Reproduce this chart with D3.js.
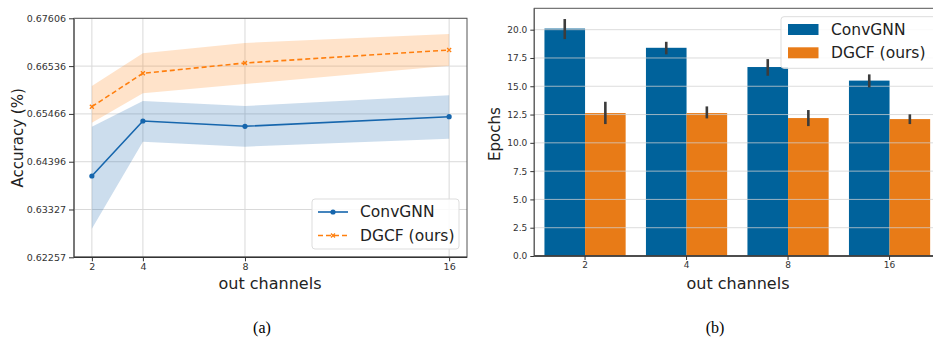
<!DOCTYPE html>
<html>
<head>
<meta charset="utf-8">
<script src="https://cdn.jsdelivr.net/npm/d3@7"></script>
<style>
  html, body { margin: 0; padding: 0; background: #fff; }
  svg { display: block; font-family: "DejaVu Sans", sans-serif; }
  text.caption { font-family: "Liberation Serif", "DejaVu Serif", serif; }
</style>
</head>
<body>
<svg id="fig" width="933" height="344"></svg>
<script>
// ---- data ----
const channels = [2, 4, 8, 16];
const seriesNames = ["ConvGNN", "DGCF (ours)"];

// (a) accuracy: mean and confidence band per channel count
const accConv = [0.64076, 0.65307, 0.65189, 0.65404];
const accConvLo = [0.62897, 0.64844, 0.64732, 0.64911];
const accConvHi = [0.65180, 0.65755, 0.65643, 0.65883];
const accDgcf = [0.65628, 0.66375, 0.66606, 0.66897];
const accDgcfLo = [0.65270, 0.65927, 0.66136, 0.66545];
const accDgcfHi = [0.66091, 0.66823, 0.67053, 0.67255];
const accTicks = [0.62257, 0.63327, 0.64396, 0.65466, 0.66536, 0.67606];

// (b) epochs: mean and error bar per channel count
const epConv = [20.1, 18.4, 16.7, 15.5];
const epConvLo = [19.17, 17.82, 15.93, 14.9];
const epConvHi = [20.94, 18.93, 17.40, 16.05];
const epDgcf = [12.63, 12.63, 12.19, 12.10];
const epDgcfLo = [11.66, 12.16, 11.48, 11.66];
const epDgcfHi = [13.63, 13.22, 12.90, 12.52];
const epTicks = [0, 2.5, 5, 7.5, 10, 12.5, 15, 17.5, 20];

const svg = d3.select("#fig");
const spine = "#333";
const gridCol = "#d9d9d9";
const tickFont = 9.5;

// ================= (a) line chart =================
{
  const L = 74, R = 467, T = 18.3, B = 257.3;
  const x = d3.scaleLinear().domain([1.3, 16.7]).range([L, R]);
  const y = d3.scaleLinear().domain([0.62257, 0.67606]).range([B, T]);
  const g = svg.append("g");

  // grid
  g.append("g").selectAll("line.gy").data(accTicks).join("line")
    .attr("x1", L).attr("x2", R).attr("y1", d => y(d)).attr("y2", d => y(d))
    .attr("stroke", gridCol).attr("stroke-width", 1);
  g.append("g").selectAll("line.gx").data(channels).join("line")
    .attr("y1", T).attr("y2", B).attr("x1", d => x(d)).attr("x2", d => x(d))
    .attr("stroke", gridCol).attr("stroke-width", 1);

  const blue = "#1666ad", orange = "#ff7f0e";
  const series = [
    { m: accConv, lo: accConvLo, hi: accConvHi, c: blue, dash: null, marker: "circle" },
    { m: accDgcf, lo: accDgcfLo, hi: accDgcfHi, c: orange, dash: "5,3", marker: "x" }
  ];
  const area = d3.area().x((d, i) => x(channels[i])).y0(d => y(d[0])).y1(d => y(d[1]));
  const line = d3.line().x((d, i) => x(channels[i])).y(d => y(d));

  series.forEach(s => {
    g.append("path").datum(s.lo.map((v, i) => [v, s.hi[i]]))
      .attr("d", area).attr("fill", s.c).attr("fill-opacity", 0.22);
  });
  series.forEach(s => {
    g.append("path").datum(s.m).attr("d", line).attr("fill", "none")
      .attr("stroke", s.c).attr("stroke-width", 1.6)
      .attr("stroke-dasharray", s.dash);
    if (s.marker === "circle") {
      g.append("g").selectAll("circle").data(s.m).join("circle")
        .attr("cx", (d, i) => x(channels[i])).attr("cy", d => y(d)).attr("r", 2.6)
        .attr("fill", s.c);
    } else {
      g.append("g").selectAll("path.mk").data(s.m).join("path")
        .attr("transform", (d, i) => `translate(${x(channels[i])},${y(d)})`)
        .attr("d", "M-2,-2L2,2M-2,2L2,-2").attr("stroke", s.c).attr("stroke-width", 1.3);
    }
  });

  // frame
  g.append("rect").attr("x", L).attr("y", T).attr("width", R - L).attr("height", B - T)
    .attr("fill", "none").attr("stroke", "#555").attr("stroke-width", 1);
  g.append("line").attr("x1", L).attr("x2", L).attr("y1", T).attr("y2", B)
    .attr("stroke", "#777").attr("stroke-width", 2);
  g.append("line").attr("x1", L).attr("x2", R).attr("y1", B).attr("y2", B)
    .attr("stroke", spine).attr("stroke-width", 1.4);

  // axes
  const ya = d3.axisLeft(y).tickValues(accTicks).tickFormat(d3.format(".5f")).tickSize(5).tickPadding(3);
  const yg = g.append("g").attr("transform", `translate(${L},0)`).call(ya);
  const xa = d3.axisBottom(x).tickValues(channels).tickSize(4).tickPadding(2);
  const xg = g.append("g").attr("transform", `translate(0,${B})`).call(xa);
  [yg, xg].forEach(a => {
    a.select(".domain").remove();
    a.selectAll("line").attr("stroke", spine);
    a.selectAll("text").attr("font-size", tickFont).attr("fill", "#333")
      .attr("font-family", "DejaVu Sans, sans-serif");
  });

  g.append("text").attr("transform", `translate(23,${(T + B) / 2}) rotate(-90)`)
    .attr("text-anchor", "middle").attr("font-size", 15).attr("fill", "#222")
    .text("Accuracy (%)");
  g.append("text").attr("x", 270).attr("y", 289).attr("text-anchor", "middle")
    .attr("font-size", 16).attr("fill", "#222").text("out channels");

  // legend
  const lg = g.append("g");
  lg.append("rect").attr("x", 312).attr("y", 199).attr("width", 147).attr("height", 50)
    .attr("rx", 3).attr("fill", "#fff").attr("fill-opacity", 0.85)
    .attr("stroke", "#ddd").attr("stroke-width", 1);
  series.forEach((s, i) => {
    const yy = 212 + i * 23.5;
    lg.append("line").attr("x1", 318).attr("x2", 348).attr("y1", yy).attr("y2", yy)
      .attr("stroke", s.c).attr("stroke-width", 1.6).attr("stroke-dasharray", s.dash);
    if (s.marker === "circle") {
      lg.append("circle").attr("cx", 333).attr("cy", yy).attr("r", 2.6).attr("fill", s.c);
    } else {
      lg.append("path").attr("transform", `translate(333,${yy})`)
        .attr("d", "M-2,-2L2,2M-2,2L2,-2").attr("stroke", s.c).attr("stroke-width", 1.3);
    }
    lg.append("text").attr("x", 360).attr("y", yy).attr("dy", "0.35em")
      .attr("font-size", 15.5).attr("fill", "#222").text(seriesNames[i]);
  });
}

// ================= (b) bar chart =================
{
  const L = 534.3, T = 8.3, B = 256;
  const R = L + 406;
  const x0 = d3.scaleBand().domain(channels).range([L, R]).paddingInner(0.2).paddingOuter(0.1);
  const x1 = d3.scaleBand().domain([0, 1]).range([0, x0.bandwidth()]);
  const y = d3.scaleLinear().domain([0, 21.89]).range([B, T]);
  const g = svg.append("g");
  const colors = ["#00629b", "#e87b17"];
  const means = [epConv, epDgcf], los = [epConvLo, epDgcfLo], his = [epConvHi, epDgcfHi];

  // bars
  [0, 1].forEach(s => {
    g.append("g").selectAll("rect").data(means[s]).join("rect")
      .attr("x", (d, i) => x0(channels[i]) + x1(s)).attr("width", x1.bandwidth())
      .attr("y", d => y(d)).attr("height", d => B - y(d))
      .attr("fill", colors[s]);
  });

  // grid over bars
  g.append("g").selectAll("line").data(epTicks).join("line")
    .attr("x1", L).attr("x2", R).attr("y1", d => y(d)).attr("y2", d => y(d))
    .attr("stroke", "#d0d0d0").attr("stroke-opacity", 0.75).attr("stroke-width", 1);

  // error bars
  [0, 1].forEach(s => {
    g.append("g").selectAll("line").data(means[s]).join("line")
      .attr("x1", (d, i) => x0(channels[i]) + x1(s) + x1.bandwidth() / 2)
      .attr("x2", (d, i) => x0(channels[i]) + x1(s) + x1.bandwidth() / 2)
      .attr("y1", (d, i) => y(los[s][i])).attr("y2", (d, i) => y(his[s][i]))
      .attr("stroke", "#3c3c3c").attr("stroke-width", 2.6);
  });

  // frame
  g.append("rect").attr("x", L).attr("y", T).attr("width", R - L).attr("height", B - T)
    .attr("fill", "none").attr("stroke", "#555").attr("stroke-width", 1);
  g.append("line").attr("x1", L).attr("x2", L).attr("y1", T).attr("y2", B)
    .attr("stroke", "#666").attr("stroke-width", 1.4);
  g.append("line").attr("x1", L).attr("x2", R).attr("y1", B).attr("y2", B)
    .attr("stroke", spine).attr("stroke-width", 1.4);

  const ya = d3.axisLeft(y).tickValues(epTicks).tickFormat(d3.format(".1f")).tickSize(4).tickPadding(3);
  const yg = g.append("g").attr("transform", `translate(${L},0)`).call(ya);
  const xa = d3.axisBottom(x0).tickSize(4).tickPadding(2);
  const xg = g.append("g").attr("transform", `translate(0,${B})`).call(xa);
  [yg, xg].forEach(a => {
    a.select(".domain").remove();
    a.selectAll("line").attr("stroke", spine);
    a.selectAll("text").attr("font-size", 9).attr("fill", "#333")
      .attr("font-family", "DejaVu Sans, sans-serif");
  });

  g.append("text").attr("transform", `translate(500,${(T + B) / 2 + 2}) rotate(-90)`)
    .attr("text-anchor", "middle").attr("font-size", 15).attr("fill", "#222")
    .text("Epochs");
  g.append("text").attr("x", 738).attr("y", 289).attr("text-anchor", "middle")
    .attr("font-size", 16).attr("fill", "#222").text("out channels");

  // legend
  const lg = g.append("g");
  lg.append("rect").attr("x", 781).attr("y", 16.7).attr("width", 160).attr("height", 51.6)
    .attr("rx", 3).attr("fill", "#fff").attr("fill-opacity", 0.85)
    .attr("stroke", "#ddd").attr("stroke-width", 1);
  [0, 1].forEach(s => {
    const yy = 29.5 + s * 23.3;
    lg.append("rect").attr("x", 788).attr("y", yy - 5.5).attr("width", 30.5).attr("height", 11)
      .attr("fill", colors[s]);
    lg.append("text").attr("x", 831).attr("y", yy).attr("dy", "0.35em")
      .attr("font-size", 15.5).attr("fill", "#222").text(seriesNames[s]);
  });
}

// panel captions
svg.append("text").attr("class", "caption").attr("x", 262).attr("y", 333).attr("text-anchor", "middle")
  .attr("font-size", 16).attr("fill", "#000").text("(a)");
svg.append("text").attr("class", "caption").attr("x", 715).attr("y", 333).attr("text-anchor", "middle")
  .attr("font-size", 16).attr("fill", "#000").text("(b)");
</script>
</body>
</html>
